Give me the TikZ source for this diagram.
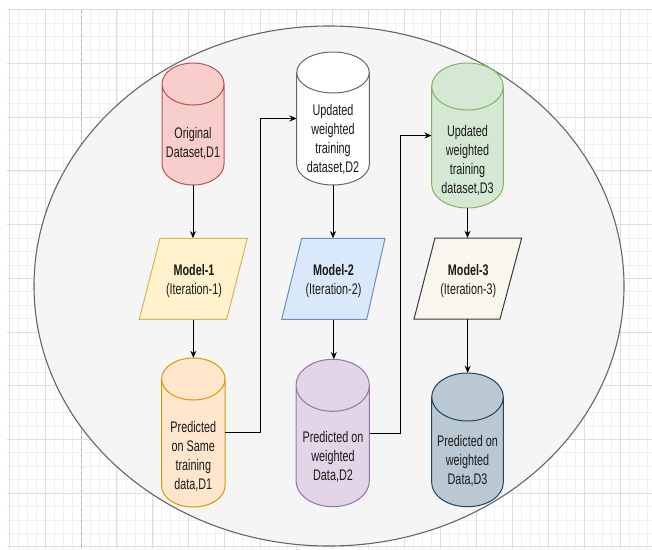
\documentclass[tikz,border=0pt]{standalone}
\usepackage{graphicx}
\usepackage{fontspec}
\setmainfont{Liberation Sans}
\usetikzlibrary{arrows.meta,calc}
\definecolor{gminorc}{HTML}{F0F0F0}
\definecolor{gmajorc}{HTML}{DEDEDE}
\definecolor{ellfill}{HTML}{F5F5F5}
\definecolor{ellline}{HTML}{666666}
\definecolor{redfill}{HTML}{F8CECC}\definecolor{redline}{HTML}{B85450}
\definecolor{whiteline}{HTML}{666666}
\definecolor{greenfill}{HTML}{D5E8D4}\definecolor{greenline}{HTML}{82B366}
\definecolor{yelfill}{HTML}{FFF2CC}\definecolor{yelline}{HTML}{D6B656}
\definecolor{bluefill}{HTML}{DAE8FC}\definecolor{blueline}{HTML}{6C8EBF}
\definecolor{beigefill}{HTML}{F9F7ED}\definecolor{beigeline}{HTML}{36393D}
\definecolor{orfill}{HTML}{FFE6CC}\definecolor{orline}{HTML}{D79B00}
\definecolor{purfill}{HTML}{E1D5E7}\definecolor{purline}{HTML}{9673A6}
\definecolor{slatefill}{HTML}{BAC8D3}\definecolor{slateline}{HTML}{23445D}
\definecolor{txtc}{HTML}{1A1A1A}
\newcommand\lbl[1]{\scalebox{1}[1.42]{\begin{tabular}{@{}c@{}}#1\end{tabular}}}
\newcommand\drawcyl[8]{%
 \pgfmathsetmacro\qqA{#2-(#5)}\pgfmathsetmacro\qqB{#2+(#5)}%
 \pgfmathsetmacro\qqT{-(#3)-(#6)}\pgfmathsetmacro\qqU{-(#4)+(#6)}%
 \pgfmathsetmacro\qqM{-((#3)+(#4))/2}\pgfmathsetmacro\qqH{(#4)-(#3)}\pgfmathsetmacro\qqW{2*(#5)}%
 \filldraw[fill=#7,draw=#8,shapeline] (\qqA,\qqT) -- (\qqA,\qqU) arc[start angle=180,end angle=360,x radius=#5,y radius=#6] -- (\qqB,\qqT) arc[start angle=0,end angle=180,x radius=#5,y radius=#6] -- cycle
   (\qqA,\qqT) arc[start angle=180,end angle=360,x radius=#5,y radius=#6];
 \node[inner sep=0,minimum width=\qqW pt,minimum height=\qqH pt] (#1) at (#2,\qqM) {};
}
\newcommand\drawpara[9]{%
 \pgfmathsetmacro\qqX{((#2)+(#3)+(#4)+(#5))/4}\pgfmathsetmacro\qqY{-((#6)+(#7))/2}%
 \pgfmathsetmacro\qqW{(#3)-(#2)}\pgfmathsetmacro\qqH{(#7)-(#6)}%
 \draw[fill=#8,draw=#9,shapeline] (#2,-#6) -- (#3,-#6) -- (#4,-#7) -- (#5,-#7) -- cycle;
 \node[inner sep=0,minimum width=\qqW pt,minimum height=\qqH pt] (#1) at (\qqX,\qqY) {};
}
\tikzset{
 shapeline/.style={line width=1pt},
 gminor/.style={draw=gminorc,line width=0.5pt},
 gmajor/.style={draw=gmajorc,line width=0.7pt},
 txt/.style={inner sep=0,text=txtc,font=\fontsize{10.8}{13.4}\selectfont},
 arr/.style={draw=black,line width=0.85pt,-{Stealth[length=7pt,width=6pt]}},
}
\begin{document}
\begin{tikzpicture}[x=1pt,y=1pt]
\useasboundingbox (0,0) rectangle (652,-549);
\fill[white] (0,0) rectangle (652,-549);
% grid
\foreach \i in {0,...,71} \draw[gminor] ({9+8.985*\i},-9.7) -- ({9+8.985*\i},-549);
\foreach \j in {0,...,40} \draw[gminor] (7,{-9.7-13.425*\j}) -- (652,{-9.7-13.425*\j});
\foreach \i in {0,...,17} \draw[gmajor] ({9+35.94*\i},-9.7) -- ({9+35.94*\i},-549);
\foreach \j in {0,...,10} \draw[gmajor] (7,{-9.7-53.7*\j}) -- (652,{-9.7-53.7*\j});
\draw[draw=black!30,dashed,line width=0.7pt] (81.5,-9.7) -- (81.5,-549);
% big ellipse
\draw[fill=ellfill,draw=ellline,line width=1.1pt] (329,-286) ellipse[x radius=295,y radius=260];
% cylinders
\drawcyl{c1}{193}{63}{185}{31}{21}{redfill}{redline}
\drawcyl{c2}{333}{52}{185}{36.3}{20.5}{white}{whiteline}
\drawcyl{c3}{467.5}{63}{208}{35.8}{23.5}{greenfill}{greenline}
\drawcyl{c4}{193.3}{358}{507}{31.7}{21}{orfill}{orline}
\drawcyl{c5}{332.7}{359.3}{506.7}{36.7}{26}{purfill}{purline}
\drawcyl{c6}{467.5}{373}{506.7}{35.8}{24}{slatefill}{slateline}
% parallelograms
\drawpara{m1}{160}{247.3}{226.7}{139.3}{238.3}{319.3}{yelfill}{yelline}
\drawpara{m2}{301.7}{385}{366.7}{281.7}{238.3}{319.3}{bluefill}{blueline}
\drawpara{m3}{435}{521.7}{500}{414}{238}{319}{beigefill}{beigeline}
% texts
\node[txt] (t1) at (193,-144) {\lbl{Original\\Dataset,D1}};
\node[txt] (t2) at (333,-140) {\lbl{Updated\\weighted\\training\\dataset,D2}};
\node[txt] (t3) at (467.5,-161.5) {\lbl{Updated\\weighted\\training\\dataset,D3}};
\node[txt] (t4) at (194,-281) {\lbl{\textbf{Model-1}\\(Iteration-1)}};
\node[txt] (t5) at (333.5,-281) {\lbl{\textbf{Model-2}\\(Iteration-2)}};
\node[txt] (t6) at (468.3,-281) {\lbl{\textbf{Model-3}\\(Iteration-3)}};
\node[txt] (t7) at (193.3,-457.5) {\lbl{Predicted\\on Same\\training\\data,D1}};
\node[txt] (t8) at (333,-457.5) {\lbl{Predicted on\\weighted\\Data,D2}};
\node[txt] (t9) at (467.5,-461.5) {\lbl{Predicted on\\weighted\\Data,D3}};
% connectors
\draw[arr] (c1.south) -- (c1.south |- m1.north);
\draw[arr] (c2.south) -- (c2.south |- m2.north);
\draw[arr] (c3.south) -- (c3.south |- m3.north);
\draw[arr] (m1.south) -- (m1.south |- c4.north);
\draw[arr] (m2.south) -- (m2.south |- c5.north);
\draw[arr] (m3.south) -- (m3.south |- c6.north);
\draw[arr] (c4.east) -| ($(c4.east)!0.5!(c2.west)$) |- (c2.west);
\draw[arr] (c5.east) -| ($(c5.east)!0.5!(c3.west)$) |- (c3.west);
\end{tikzpicture}
\end{document}
